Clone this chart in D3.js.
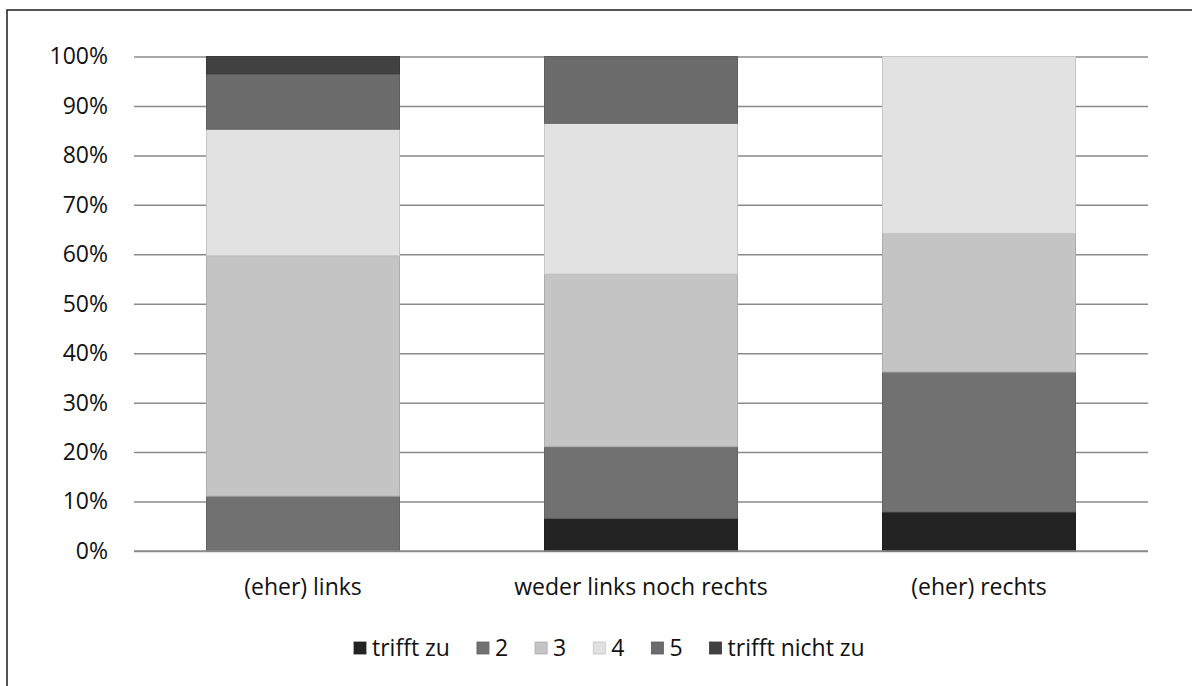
<!DOCTYPE html>
<html>
<head>
<meta charset="utf-8">
<script src="https://cdn.jsdelivr.net/npm/d3@7"></script>
<style>
  html, body { margin: 0; padding: 0; background: #fff; }
  svg { display: block; }
  text { font-family: "Open Sans", sans-serif; fill: #111; }
</style>
</head>
<body>
<svg id="chart" width="1192" height="686"></svg>
<script>
// ---- data ----
const categories = ["(eher) links", "weder links noch rechts", "(eher) rechts"];
const seriesNames = ["trifft zu", "2", "3", "4", "5", "trifft nicht zu"];
const trifftZu     = [0.0, 6.6, 7.9];
const s2           = [11.1, 14.5, 28.3];
const s3           = [48.6, 34.9, 28.0];
const s4           = [25.6, 30.5, 35.8];
const s5           = [11.2, 13.5, 0.0];
const trifftNicht  = [3.5, 0.0, 0.0];
const yTicks = [0, 10, 20, 30, 40, 50, 60, 70, 80, 90, 100];
const colors = ["#232323", "#717171", "#c4c4c4", "#e2e2e2", "#6c6c6c", "#414141"];

const seriesValues = [trifftZu, s2, s3, s4, s5, trifftNicht];
const rows = categories.map((c, i) => {
  const r = { cat: c };
  seriesNames.forEach((s, j) => r[s] = seriesValues[j][i]);
  return r;
});

const svg = d3.select("#chart");
const W = 1192, H = 686;
const plot = { left: 134, right: 1148, top: 56.5, bottom: 551 };
const FS = 23;

// outer frame (only left/top visible in crop)
svg.append("rect")
  .attr("x", 7).attr("y", 10)
  .attr("width", W + 20).attr("height", H + 20)
  .attr("fill", "none").attr("stroke", "#2a2a2a").attr("stroke-width", 1.6);

const x = d3.scaleBand()
  .domain(categories)
  .range([plot.left, plot.right])
  .paddingInner(0.429)
  .paddingOuter(0.2145);

const y = d3.scaleLinear().domain([0, 100]).range([plot.bottom, plot.top]);

// gridlines
const yAxis = d3.axisLeft(y).tickValues(yTicks).tickFormat(d => d + "%")
  .tickSize(-(plot.right - plot.left)).tickPadding(26);
const gy = svg.append("g").attr("transform", `translate(${plot.left},0)`).call(yAxis);
gy.select(".domain").remove();
gy.selectAll(".tick line").attr("stroke", "#8a8a8a").attr("stroke-width", 1.5);
gy.selectAll(".tick text")
  .attr("font-family", "Open Sans, sans-serif")
  .attr("font-size", FS).attr("fill", "#111");

// stacked bars
const stack = d3.stack().keys(seriesNames);
const stacked = stack(rows);

svg.append("g").selectAll("g")
  .data(stacked)
  .join("g")
  .attr("fill", (d, i) => colors[i])
  .attr("stroke", (d, i) => d3.color(colors[i]).darker(0.35))
  .attr("stroke-width", 1)
  .selectAll("rect")
  .data(d => d.filter(s => s[1] - s[0] > 0))
  .join("rect")
  .attr("x", d => x(d.data.cat))
  .attr("width", x.bandwidth())
  .attr("y", d => y(d[1]))
  .attr("height", d => y(d[0]) - y(d[1]));

// x axis line
svg.append("line")
  .attr("x1", plot.left).attr("x2", plot.right)
  .attr("y1", y(0)).attr("y2", y(0))
  .attr("stroke", "#8a8a8a").attr("stroke-width", 1.5);

// category labels
const xAxis = d3.axisBottom(x).tickSize(0).tickPadding(0);
const gx = svg.append("g").attr("transform", `translate(0,${plot.bottom + 28})`).call(xAxis);
gx.select(".domain").remove();
gx.selectAll(".tick text")
  .attr("font-family", "Open Sans, sans-serif")
  .attr("font-size", FS).attr("fill", "#111").attr("dy", "0.71em");

// legend
const legend = svg.append("g").attr("transform", "translate(0,648)");
let lx = 354;
const gaps = 27;
seriesNames.forEach((s, i) => {
  const g = legend.append("g").attr("transform", `translate(${lx},0)`);
  g.append("rect").attr("x", 0).attr("y", -6).attr("width", 12).attr("height", 12)
    .attr("fill", colors[i]).attr("stroke", d3.color(colors[i]).darker(0.4)).attr("stroke-width", 0.8);
  const t = g.append("text").attr("x", 18).attr("y", 0).attr("dy", "0.36em")
    .attr("font-size", FS).text(s);
  lx += 18 + t.node().getComputedTextLength() + gaps;
});
</script>
</body>
</html>
